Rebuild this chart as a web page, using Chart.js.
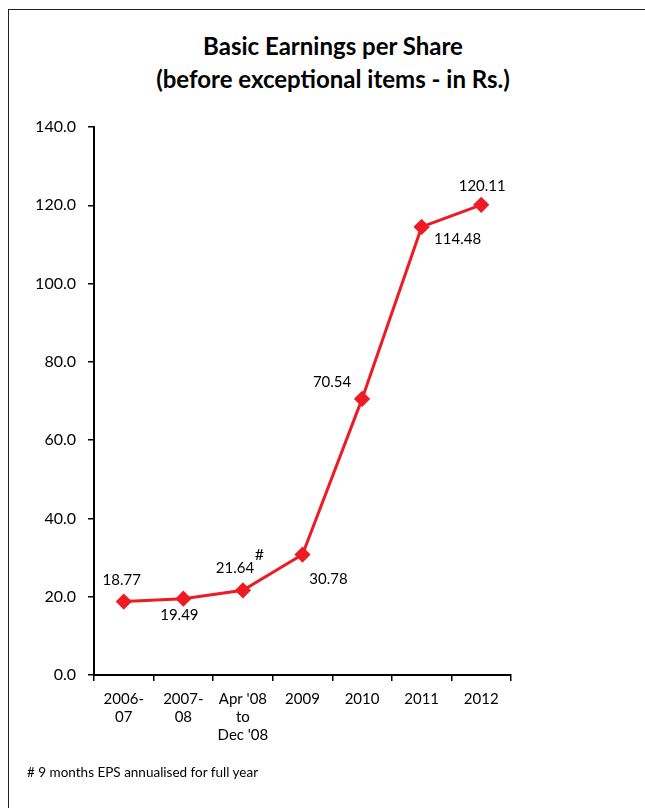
<!DOCTYPE html>
<html lang="en">
<head>
    <meta charset="UTF-8">
    <title>Basic Earnings per Share</title>
    <script src="https://cdn.jsdelivr.net/npm/chart.js"></script>
    <style>
        body { margin: 0; background: #fff; font-family: Lato, 'DejaVu Sans', sans-serif; }
        .frame { position: absolute; left: 8px; top: 9px; width: 700px; height: 900px;
                 border-left: 1.5px solid #222; border-top: 1.5px solid #222; }
        .title { position: absolute; left: 133px; width: 400px; top: 29px; text-align: center;
                 font-weight: bold; font-size: 24px; line-height: 33px; color: #000; }
        .note { position: absolute; left: 27px; top: 764px; font-size: 13.5px; color: #000; }
        .chart-box { position: absolute; left: 0; top: 0; width: 645px; height: 808px; }
    </style>
</head>
<body>
    <div class="frame"></div>
    <div class="title">Basic Earnings per Share<br>(before exceptional items - in Rs.)</div>
    <div class="chart-box"><canvas id="epsChart"></canvas></div>
    <div class="note"># 9 months EPS annualised for full year</div>

    <script>
        const periods = [['2006-', '07'], ['2007-', '08'], ["Apr '08", 'to', "Dec '08"], '2009', '2010', '2011', '2012'];
        const epsValues = [18.77, 19.49, 21.64, 30.78, 70.54, 114.48, 120.11];
        const valueLabels = ['18.77', '19.49', '21.64', '30.78', '70.54', '114.48', '120.11'];

        // where each value label sits relative to its point
        const labelOffsets = [[-2, -21], [-4, 16], [-8, -22], [26, 25], [-30, -17], [36, 12], [1, -19]];

        const valueLabelPlugin = {
            id: 'valueLabels',
            afterDatasetsDraw(chart) {
                const ctx = chart.ctx;
                const meta = chart.getDatasetMeta(0);
                ctx.save();
                ctx.fillStyle = '#000';
                ctx.font = '15px Lato';
                ctx.textAlign = 'center';
                ctx.textBaseline = 'middle';
                meta.data.forEach((pt, i) => {
                    const x = pt.x + labelOffsets[i][0];
                    const y = pt.y + labelOffsets[i][1];
                    ctx.fillText(valueLabels[i], x, y);
                    if (i === 2) {
                        ctx.font = '16px Lato';
                        const w = ctx.measureText(valueLabels[i]).width;
                        ctx.fillText('#', x + w / 2 + 4, y - 13);
                        ctx.font = '15px Lato';
                    }
                });
                ctx.restore();
            }
        };

        new Chart(document.getElementById('epsChart'), {
            type: 'line',
            data: {
                labels: periods,
                datasets: [{
                    data: epsValues,
                    borderColor: '#ed1c24',
                    backgroundColor: '#ed1c24',
                    borderWidth: 3,
                    pointStyle: 'rectRot',
                    pointRadius: 6,
                    pointHoverRadius: 6,
                    tension: 0
                }]
            },
            options: {
                responsive: true,
                maintainAspectRatio: false,
                animation: false,
                layout: { padding: { top: 127, right: 134, bottom: 33, left: 0 } },
                plugins: {
                    legend: { display: false },
                    tooltip: { enabled: false }
                },
                scales: {
                    x: {
                        offset: true,
                        afterFit(scale) { scale.height = 100; },
                        grid: { offset: true, drawOnChartArea: false, color: '#000', tickLength: 6, lineWidth: 1.5 },
                        border: { color: '#000', width: 2 },
                        ticks: { color: '#000', font: { family: 'Lato', size: 15 }, padding: 9, maxRotation: 0, autoSkip: false }
                    },
                    y: {
                        min: 0,
                        max: 140,
                        afterFit(scale) { scale.width = 94; },
                        grid: { drawOnChartArea: false, color: '#000', tickLength: 6, lineWidth: 1.5 },
                        border: { color: '#000', width: 2 },
                        ticks: {
                            stepSize: 20,
                            color: '#000',
                            font: { family: 'Lato', size: 16 },
                            padding: 12,
                            callback: v => v.toFixed(1)
                        }
                    }
                }
            },
            plugins: [valueLabelPlugin]
        });
    </script>
</body>
</html>
